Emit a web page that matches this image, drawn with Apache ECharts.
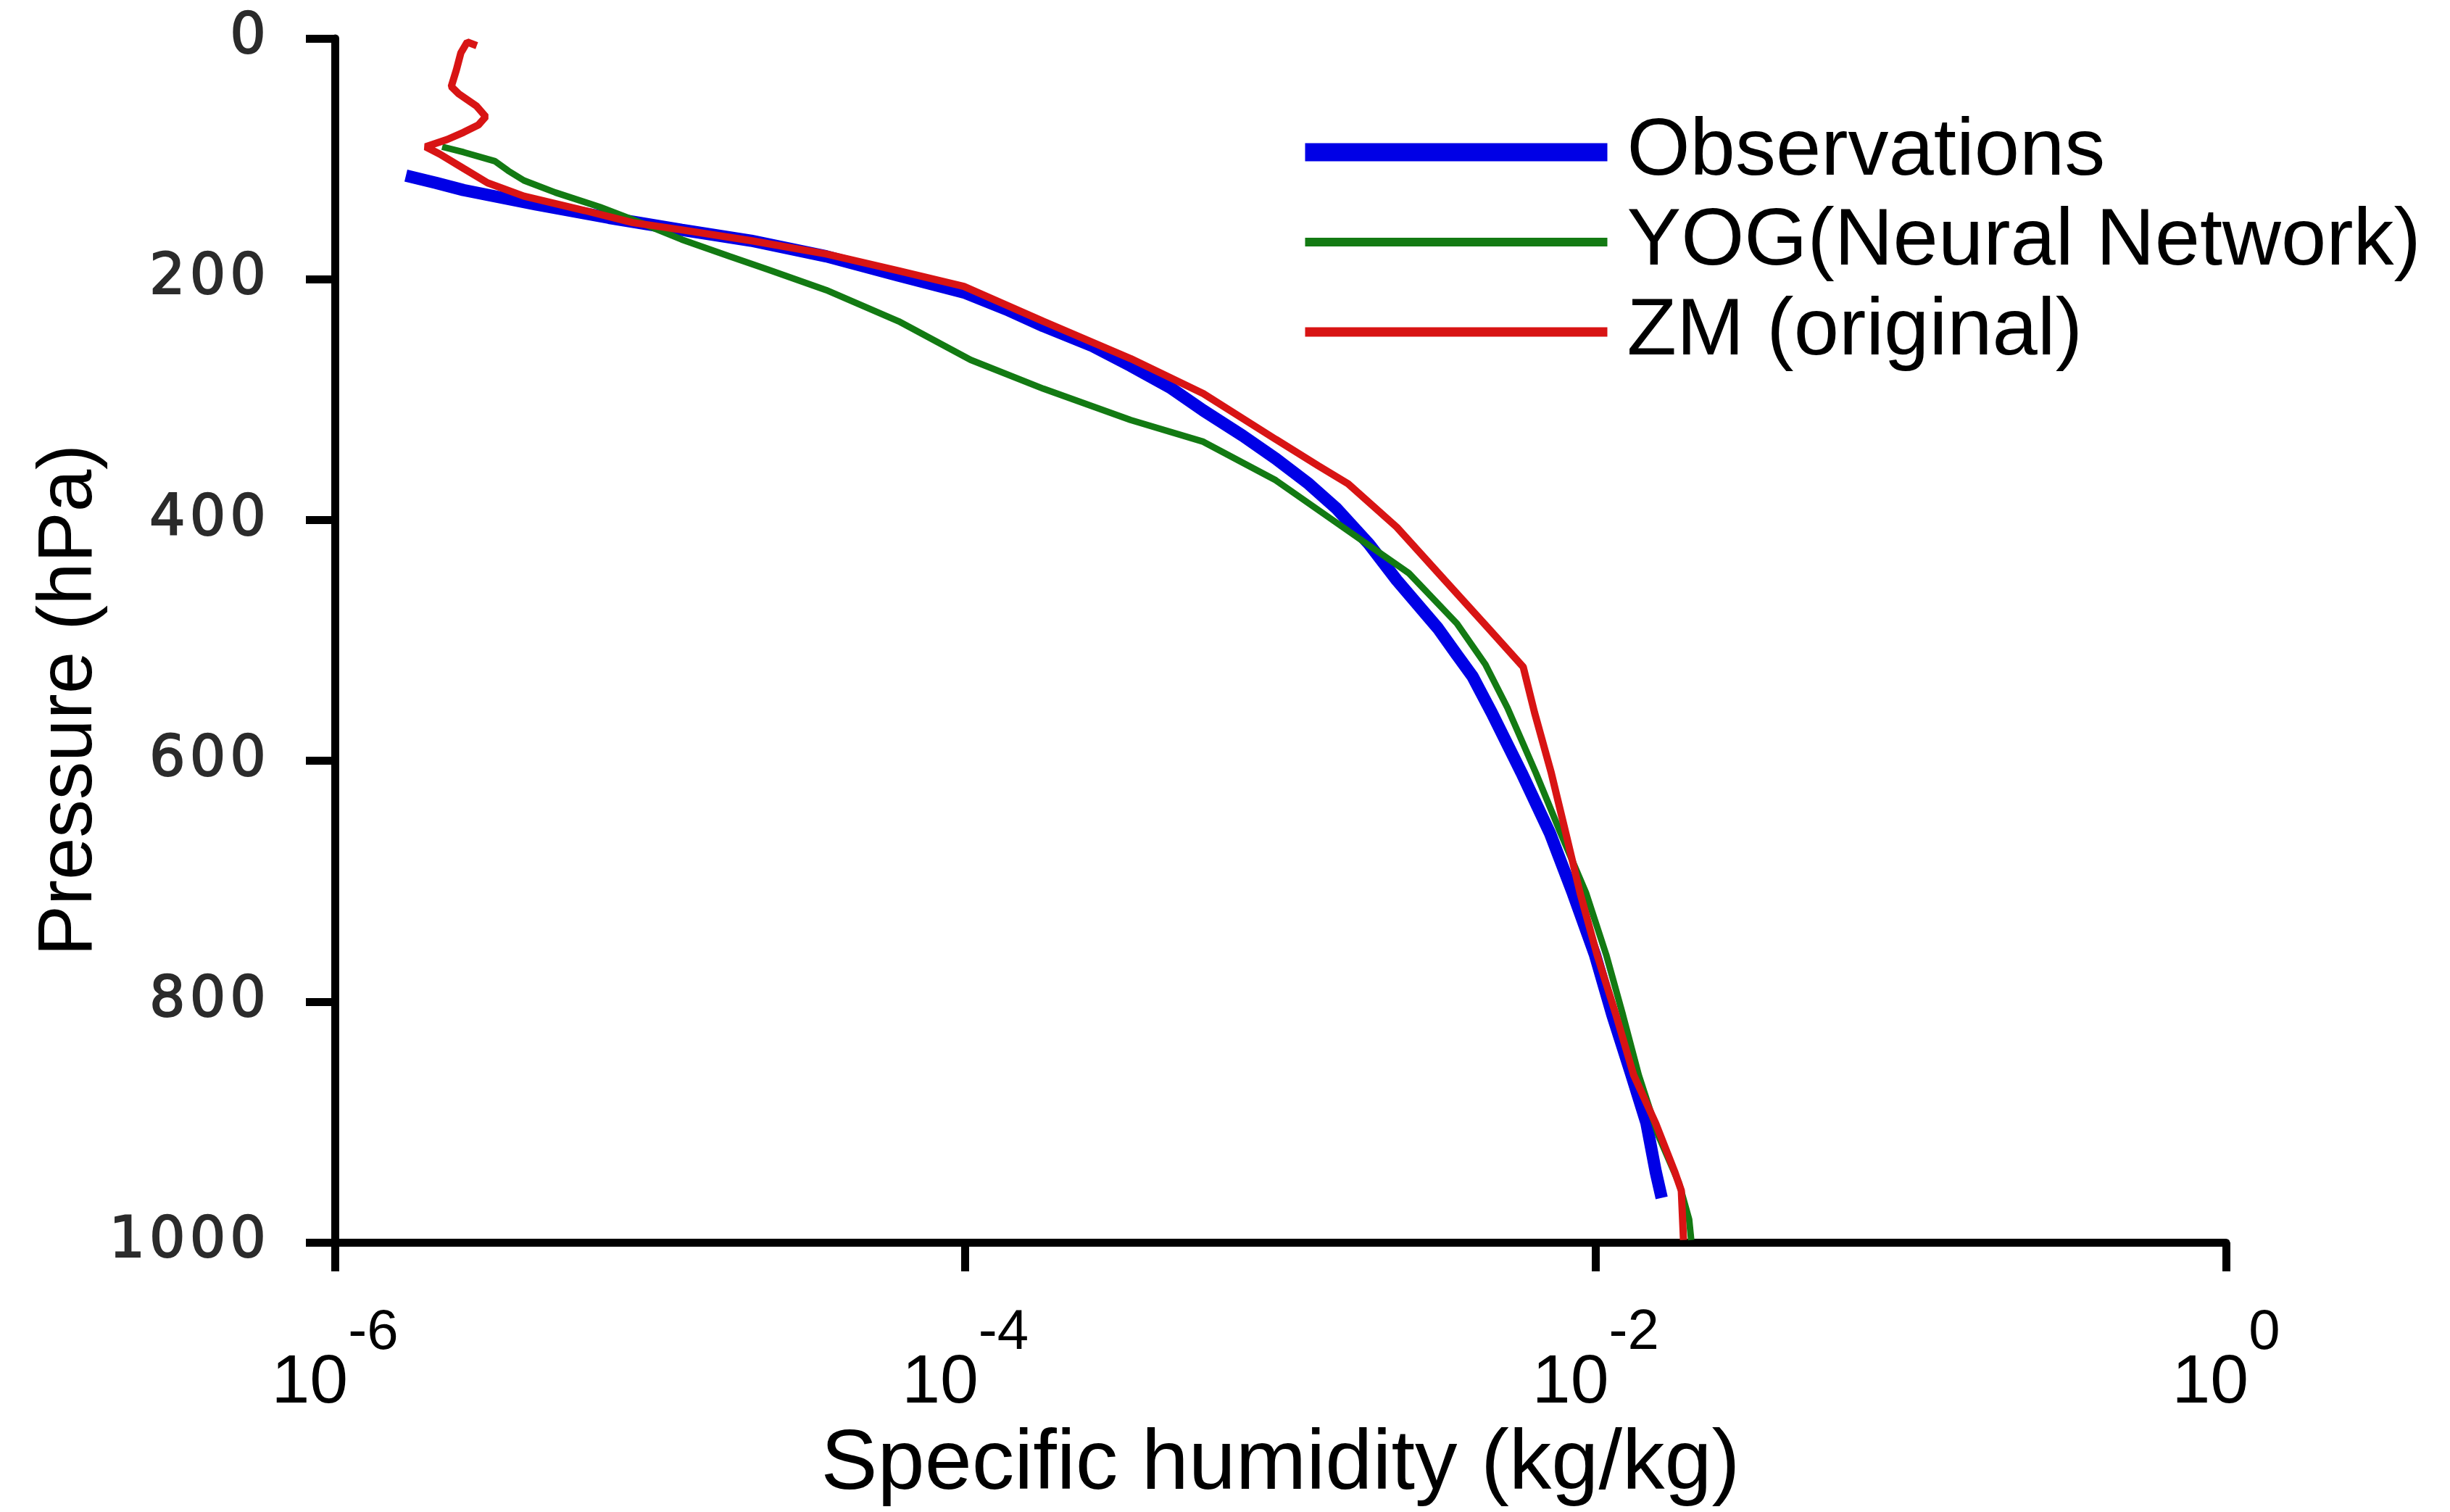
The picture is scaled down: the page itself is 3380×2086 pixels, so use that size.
<!DOCTYPE html>
<html>
<head>
<meta charset="utf-8">
<script src="https://cdn.jsdelivr.net/npm/echarts@6/dist/echarts.min.js"></script>
<style>html,body{margin:0;padding:0;background:#fff;}#chart{width:3380px;height:2086px;}</style>
</head>
<body>
<div id="chart"></div>
<script>
// ---- Data (pressure in hPa, specific humidity in kg/kg) ----
const seriesNames = ['Observations', 'YOG(Neural Network)', 'ZM (original)'];

const obsP = [114, 120, 126, 138, 149, 159, 168, 181, 197, 211, 225, 239, 255, 272, 290, 309, 330, 349, 370, 390, 420, 450, 490, 512, 530, 560, 610, 660, 710, 761, 811, 861, 901, 941, 963];
const obsQ = [1.68e-6, 2.09e-6, 2.56e-6, 4.36e-6, 7.40e-6, 1.26e-5, 2.09e-5, 3.62e-5, 6.15e-5, 9.9e-5, 1.35e-4, 1.77e-4, 2.51e-4, 3.35e-4, 4.47e-4, 5.69e-4, 7.59e-4, 9.66e-4, 1.23e-3, 1.50e-3, 1.91e-3, 2.34e-3, 3.16e-3, 3.63e-3, 4.07e-3, 4.68e-3, 5.82e-3, 7.16e-3, 8.47e-3, 9.95e-3, 1.13e-2, 1.30e-2, 1.45e-2, 1.55e-2, 1.62e-2];

const yogP = [90, 94.5, 102, 110, 118, 128, 140, 152, 167, 181, 192, 209, 235, 267, 291, 317, 335, 367, 409, 444, 486, 520, 556, 610, 660, 710, 761, 811, 861, 911, 951, 981, 998];
const yogQ = [2.19e-6, 2.56e-6, 3.22e-6, 3.55e-6, 3.98e-6, 5.01e-6, 6.92e-6, 9.12e-6, 1.26e-5, 1.79e-5, 2.37e-5, 3.62e-5, 6.15e-5, 1.04e-4, 1.77e-4, 3.35e-4, 5.69e-4, 9.66e-4, 1.64e-3, 2.55e-3, 3.63e-3, 4.47e-3, 5.25e-3, 6.46e-3, 7.74e-3, 9.33e-3, 1.08e-2, 1.22e-2, 1.37e-2, 1.58e-2, 1.84e-2, 1.98e-2, 2.01e-2];

const zmP = [6, 3, 12, 26, 40, 46, 56, 65, 72, 78, 84, 90, 96, 108, 120, 131, 143, 153, 159, 168, 179, 193, 206, 235, 266, 295, 333, 355, 370, 406, 450, 490, 522, 560, 610, 660, 710, 761, 811, 861, 901, 941, 957, 998];
const zmQ = [2.82e-6, 2.63e-6, 2.51e-6, 2.43e-6, 2.34e-6, 2.47e-6, 2.81e-6, 3.01e-6, 2.85e-6, 2.56e-6, 2.27e-6, 1.94e-6, 2.15e-6, 2.56e-6, 3.05e-6, 3.98e-6, 6.21e-6, 8.81e-6, 1.26e-5, 2.09e-5, 3.62e-5, 6.15e-5, 9.9e-5, 1.77e-4, 3.35e-4, 5.69e-4, 9.66e-4, 1.32e-3, 1.64e-3, 2.34e-3, 3.32e-3, 4.57e-3, 5.89e-3, 6.40e-3, 7.23e-3, 8.04e-3, 8.93e-3, 1.01e-2, 1.16e-2, 1.32e-2, 1.55e-2, 1.78e-2, 1.87e-2, 1.90e-2];

const yTickLabels = ['0', '200', '400', '600', '800', '1000'];
const xTickExponents = ['-6', '-4', '-2', '0'];

const colors = ['#0000e6', '#137a13', '#d81414'];
const lineWidths = [17, 9, 10];
const legendWidths = [25, 12, 13];

function pairs(q, p) { return q.map((v, i) => [v, p[i]]); }

const chart = echarts.init(document.getElementById('chart'), null, {renderer: 'canvas'});
const option = {
  animation: false,
  backgroundColor: '#ffffff',
  grid: {left: 462, right: 309, top: 53, bottom: 372, containLabel: false},
  legend: {
    orient: 'vertical',
    left: 1783,
    top: 149,
    itemWidth: 417,
    itemHeight: 26,
    itemGap: 12,
    textStyle: {fontFamily: 'Liberation Sans', fontSize: 112, color: '#000', lineHeight: 100, padding: [0, 0, 0, 22]},
    data: seriesNames.map((n, i) => ({name: n, lineStyle: {color: colors[i], width: legendWidths[i]}, itemStyle: {color: colors[i], opacity: 0}}))
  },
  xAxis: {
    type: 'log',
    logBase: 10,
    min: 1e-6,
    max: 1,
    interval: 2,
    name: 'Specific humidity (kg/kg)',
    nameLocation: 'middle',
    nameGap: 249,
    nameTextStyle: {fontFamily: 'Liberation Sans', fontSize: 117, color: '#000', lineHeight: 117},
    axisLine: {show: true, onZero: false, lineStyle: {color: '#000', width: 11}},
    axisTick: {show: true, length: 40, lineStyle: {color: '#000', width: 11}},
    splitLine: {show: false},
    minorTick: {show: false},
    axisLabel: {
      margin: 86,
      formatter: function (v) {
        const e = Math.round(Math.log10(v));
        const s = xTickExponents.find(t => Number(t) === e);
        return '{b|10}{s|' + (s !== undefined ? s : String(e)) + '}';
      },
      rich: {
        b: {fontFamily: 'Liberation Sans', fontSize: 95, lineHeight: 156, verticalAlign: 'bottom', color: '#000'},
        s: {fontFamily: 'Liberation Sans', fontSize: 78, lineHeight: 78, verticalAlign: 'top', color: '#000'}
      }
    }
  },
  yAxis: {
    type: 'value',
    inverse: true,
    min: 0,
    max: 1000,
    interval: 200,
    axisLine: {show: true, onZero: false, lineStyle: {color: '#000', width: 11}},
    axisTick: {show: true, length: 40, lineStyle: {color: '#000', width: 11}},
    splitLine: {show: false},
    axisLabel: {
      margin: 92,
      formatter: function (v) {
        const t = yTickLabels[Math.round(v / 200)];
        return t.split('').map(c => '{d|' + c + '}').join('');
      },
      rich: {
        d: {fontFamily: 'DejaVu Sans', fontSize: 78, color: '#2b2b2b', textBorderColor: '#2b2b2b', textBorderWidth: 2, padding: [0, 3, 0, 3]}
      }
    }
  },
  graphic: [{
    type: 'text',
    x: 97,
    y: 966,
    rotation: Math.PI / 2,
    style: {text: 'Pressure (hPa)', fontFamily: 'Liberation Sans', fontSize: 105, fill: '#000', align: 'center', verticalAlign: 'middle'}
  }],
  series: [
    {name: seriesNames[0], type: 'line', data: pairs(obsQ, obsP), showSymbol: false, symbol: 'none', lineStyle: {color: colors[0], width: lineWidths[0]}, itemStyle: {color: colors[0]}, z: 2},
    {name: seriesNames[1], type: 'line', data: pairs(yogQ, yogP), showSymbol: false, symbol: 'none', lineStyle: {color: colors[1], width: lineWidths[1]}, itemStyle: {color: colors[1]}, z: 3},
    {name: seriesNames[2], type: 'line', data: pairs(zmQ, zmP), showSymbol: false, symbol: 'none', lineStyle: {color: colors[2], width: lineWidths[2]}, itemStyle: {color: colors[2]}, z: 4}
  ]
};
chart.setOption(option);
</script>
</body>
</html>
